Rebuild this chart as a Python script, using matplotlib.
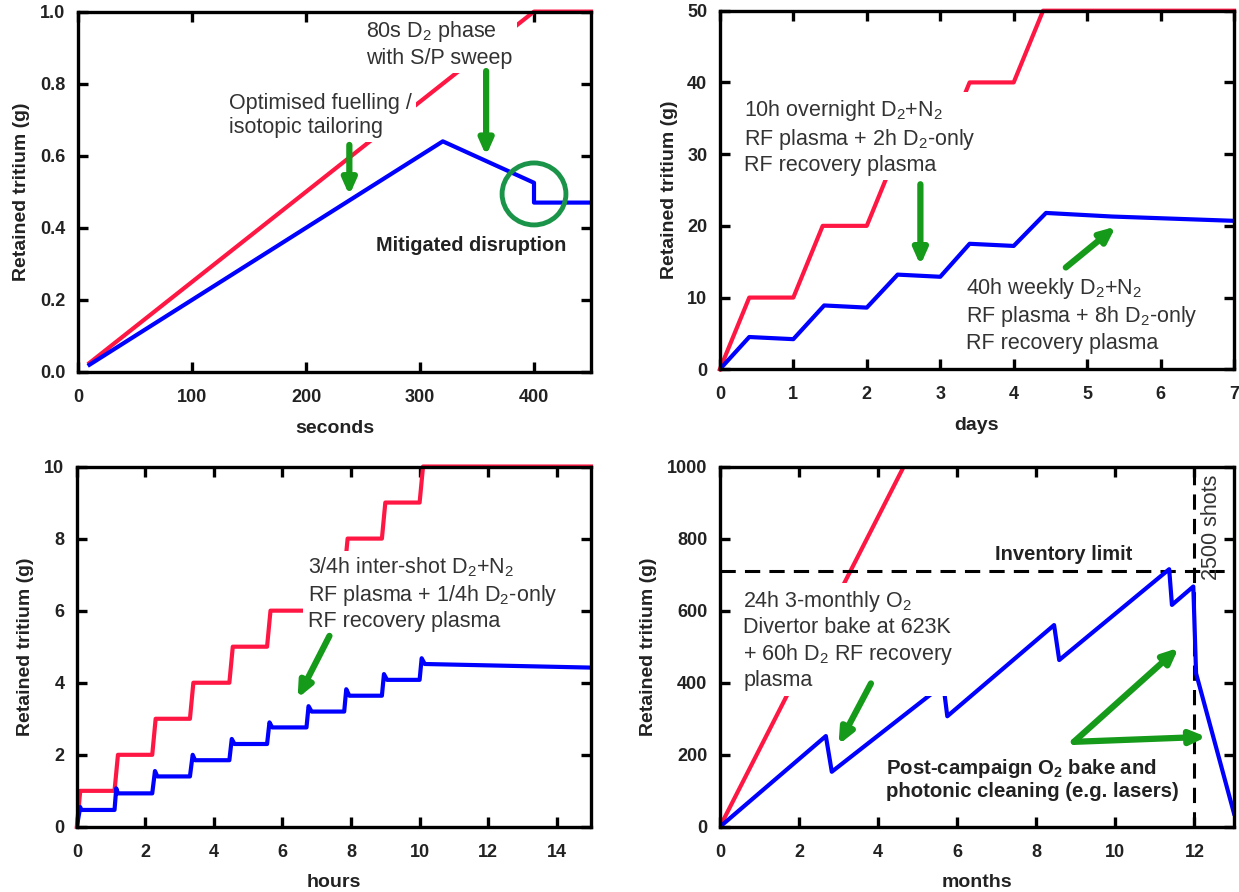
import numpy as np
import matplotlib
matplotlib.use("Agg")
import matplotlib.pyplot as plt
from matplotlib.patches import Ellipse

plt.rcParams['font.family'] = ['Liberation Sans', 'DejaVu Sans']
plt.rcParams['mathtext.default'] = 'regular'

RED = '#ff1744'
BLUE = '#0000ff'
GREEN = '#159a1a'
CIRCLE = '#1a9448'
TXT = '#333333'

# ---- panel 1: seconds ----
sec_red_x = [10, 400, 450]
sec_red_y = [0.025, 1.0, 1.0]
sec_blue_x = [10, 320, 400, 400, 450]
sec_blue_y = [0.02, 0.64, 0.525, 0.47, 0.47]

# ---- panel 2: days ----
day_red_x = [0, 0.4, 1.0, 1.4, 2.0, 2.4, 3.0, 3.4, 4.0, 4.4, 7.0]
day_red_y = [0, 10, 10, 20, 20, 30, 30, 40, 40, 50, 50]
day_blue_x = [0, 0.4, 1.0, 1.42, 2.0, 2.42, 3.0, 3.4, 4.0, 4.44, 5.34, 7.0]
day_blue_y = [0, 4.5, 4.2, 8.9, 8.6, 13.2, 12.9, 17.5, 17.2, 21.8, 21.3, 20.7]

# ---- panel 3: hours ----
hr_red_x = [0, 0.1, 1.1, 1.2, 2.2, 2.3, 3.3, 3.4, 4.45, 4.55, 5.55, 5.65,
            6.7, 6.8, 7.8, 7.9, 8.9, 9.0, 10.0, 10.1, 15.0]
hr_red_y = [0, 1, 1, 2, 2, 3, 3, 4, 4, 5, 5, 6, 6, 7, 7, 8, 8, 9, 9, 10, 10]
hr_blue_x = [0, 0.1, 0.12, 1.1, 1.15, 1.2, 2.2, 2.28, 2.35, 3.3, 3.38, 3.45,
             4.45, 4.52, 4.6, 5.55, 5.62, 5.7, 6.7, 6.76, 6.85, 7.8, 7.86, 7.95,
             8.9, 8.96, 9.05, 10.0, 10.06, 10.15, 15.0]
hr_blue_y = [0, 0.55, 0.47, 0.47, 1.07, 0.93, 0.93, 1.55, 1.4, 1.4, 2.0, 1.85,
             1.85, 2.44, 2.3, 2.3, 2.9, 2.76, 2.76, 3.35, 3.2, 3.2, 3.82, 3.64,
             3.64, 4.24, 4.08, 4.08, 4.68, 4.52, 4.42]

# ---- panel 4: months ----
mon_red_x = [0, 4.65]
mon_red_y = [0, 1000]
mon_blue_x = [0, 2.68, 2.83, 5.65, 5.75, 8.45, 8.58, 11.36, 11.43, 11.97, 12.04, 13.0]
mon_blue_y = [0, 252, 153, 395, 307, 560, 463, 715, 616, 667, 426, 37]
inventory_limit = 710
shots_2500 = 12


def style_axes(ax, xlim, ylim, xticks, yticks, xlabel, yfmt=None):
    ax.set_xlim(*xlim)
    ax.set_ylim(*ylim)
    ax.set_xticks(xticks)
    ax.set_yticks(yticks)
    if yfmt:
        ax.set_yticklabels([yfmt % v for v in yticks])
    for s in ax.spines.values():
        s.set_linewidth(2.4)
    ax.tick_params(direction='in', length=7, width=2.4, top=True, right=True,
                   labelsize=13)
    ax.tick_params(axis='x', pad=12)
    ax.tick_params(axis='y', pad=9)
    for lab in ax.get_xticklabels() + ax.get_yticklabels():
        lab.set_fontweight('bold')
        lab.set_color('#222222')
    ax.set_xlabel(xlabel, fontsize=14, fontweight='bold', color='#222222', labelpad=10)
    ax.set_ylabel('Retained tritium (g)', fontsize=14, fontweight='bold',
                  color='#222222', labelpad=7)


def note(ax, x, y, s, **kw):
    # white box hides the curves underneath, but stays below the frame
    ax.text(x, y, s, fontsize=15.5, color=TXT, ha='left', va='center',
            linespacing=1.2, zorder=2.3,
            bbox=dict(boxstyle='square,pad=0.2', fc='white', ec='none'), **kw)


def arrow(ax, x0, y0, x1, y1):
    ax.annotate('', xy=(x1, y1), xytext=(x0, y0), zorder=6,
                arrowprops=dict(arrowstyle='-|>,head_length=0.9,head_width=0.4',
                                lw=4.5, color=GREEN, shrinkA=0, shrinkB=0))


fig = plt.figure(figsize=(12.39, 8.92), dpi=100)
ax1 = fig.add_axes([0.063, 0.583, 0.414, 0.404])
ax2 = fig.add_axes([0.581, 0.586, 0.415, 0.402])
ax3 = fig.add_axes([0.062, 0.073, 0.415, 0.404])
ax4 = fig.add_axes([0.581, 0.073, 0.415, 0.404])

# panel 1
ax1.plot(sec_red_x, sec_red_y, color=RED, lw=3, zorder=2.0, clip_on=False)
ax1.plot(sec_blue_x, sec_blue_y, color=BLUE, lw=3, zorder=2.1)
style_axes(ax1, (0, 450), (0, 1.0), [0, 100, 200, 300, 400],
           [0, 0.2, 0.4, 0.6, 0.8, 1.0], 'seconds', '%.1f')
note(ax1, 132, 0.712, 'Optimised fuelling /\nisotopic tailoring')
note(ax1, 253, 0.91, '80s D$_2$ phase\nwith S/P sweep')
ax1.text(345, 0.35, 'Mitigated disruption', fontsize=14.3, fontweight='bold',
         color='#222222', ha='center', va='center')
arrow(ax1, 238, 0.63, 238, 0.49)
arrow(ax1, 358, 0.835, 358, 0.60)
ax1.add_patch(Ellipse((400, 0.494), 56, 0.172, fill=False, ec=CIRCLE, lw=3.5, zorder=5))

# panel 2
ax2.plot(day_red_x, day_red_y, color=RED, lw=3, zorder=2.0, clip_on=False)
ax2.plot(day_blue_x, day_blue_y, color=BLUE, lw=3, zorder=2.1)
style_axes(ax2, (0, 7), (0, 50), range(0, 8), range(0, 60, 10), 'days')
note(ax2, 0.33, 32.4, '10h overnight D$_2$+N$_2$\nRF plasma + 2h D$_2$-only\nRF recovery plasma')
note(ax2, 3.35, 7.6, '40h weekly D$_2$+N$_2$\nRF plasma + 8h D$_2$-only\nRF recovery plasma')
arrow(ax2, 2.73, 25.8, 2.73, 14.5)
arrow(ax2, 4.71, 14.2, 5.39, 19.9)

# panel 3
ax3.plot(hr_red_x, hr_red_y, color=RED, lw=3, zorder=2.0, clip_on=False)
ax3.plot(hr_blue_x, hr_blue_y, color=BLUE, lw=3, zorder=2.1)
style_axes(ax3, (0, 15), (0, 10), range(0, 16, 2), range(0, 12, 2), 'hours')
note(ax3, 6.73, 6.47, '3/4h inter-shot D$_2$+N$_2$\nRF plasma + 1/4h D$_2$-only\nRF recovery plasma')
arrow(ax3, 7.37, 5.3, 6.44, 3.57)

# panel 4
ax4.plot(mon_red_x, mon_red_y, color=RED, lw=3, zorder=2.0)
ax4.plot(mon_blue_x, mon_blue_y, color=BLUE, lw=3, zorder=2.1)
ax4.axhline(inventory_limit, color='black', lw=2.2, ls=(0, (5, 3)), zorder=2)
ax4.axvline(shots_2500, color='black', lw=2.2, ls=(0, (5, 3)), zorder=2)
style_axes(ax4, (0, 13), (0, 1000), range(0, 14, 2), range(0, 1200, 200), 'months')
note(ax4, 0.59, 518, '24h 3-monthly O$_2$\nDivertor bake at 623K\n+ 60h D$_2$ RF recovery\nplasma')
ax4.text(8.7, 755, 'Inventory limit', fontsize=14.5, fontweight='bold',
         color='#222222', ha='center', va='center')
ax4.text(12.42, 830, '2500 shots', fontsize=15.5, color=TXT, rotation=90,
         ha='center', va='center')
ax4.text(4.2, 132, 'Post-campaign O$_2$ bake and\nphotonic cleaning (e.g. lasers)',
         fontsize=14.7, fontweight='bold', color='#222222', ha='left', va='center',
         linespacing=1.15)
arrow(ax4, 3.82, 398, 3.0, 228)
arrow(ax4, 8.95, 236, 11.6, 497)
arrow(ax4, 8.95, 236, 12.3, 250)

fig.savefig('out.png', dpi=100)
